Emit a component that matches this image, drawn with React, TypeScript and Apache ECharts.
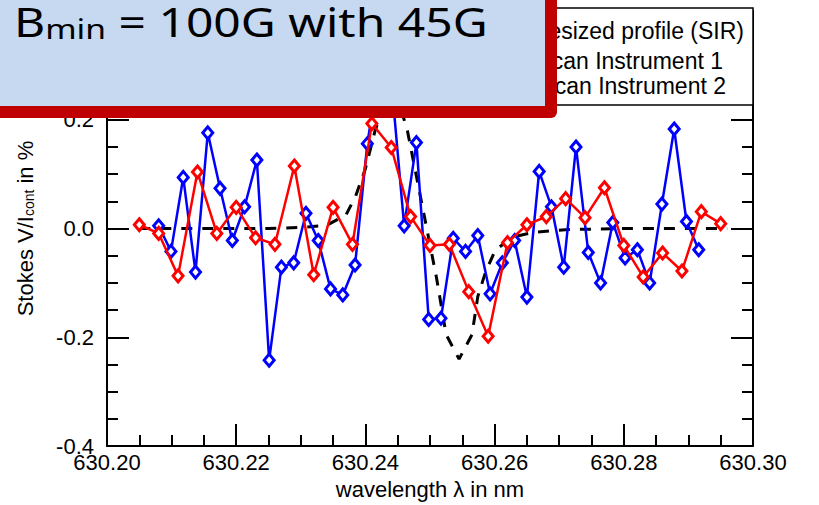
import React, { useEffect, useRef } from "react";
import * as echarts from "echarts";

// ---- data ----
const sirWavelength = [630.205, 630.225, 630.23, 630.234, 630.237, 630.2385, 630.24, 630.2415, 630.243, 630.2445, 630.2455, 630.2465, 630.248, 630.2495, 630.251, 630.2525, 630.2545, 630.2565, 630.2574, 630.2586, 630.2601, 630.2627, 630.266, 630.271, 630.28, 630.296];
const sirStokesV = [0, 0, 0.002, 0.006, 0.025, 0.06, 0.11, 0.18, 0.23, 0.245, 0.22, 0.18, 0.09, 0.0, -0.09, -0.195, -0.24, -0.195, -0.125, -0.08, -0.04, -0.016, -0.007, -0.002, 0, 0];

const inst1Wavelength = [630.208, 630.2099, 630.2118, 630.2137, 630.2156, 630.2175, 630.2194, 630.2213, 630.2232, 630.2251, 630.227, 630.2289, 630.2308, 630.2327, 630.2346, 630.2365, 630.2384, 630.2403, 630.2422, 630.2441, 630.246, 630.2479, 630.2498, 630.2517, 630.2536, 630.2555, 630.2574, 630.2593, 630.2612, 630.2631, 630.265, 630.2669, 630.2688, 630.2707, 630.2726, 630.2745, 630.2764, 630.2783, 630.2802, 630.2821, 630.284, 630.2859, 630.2878, 630.2897, 630.2916];
const inst1StokesV = [0.005, -0.042, 0.094, -0.08, 0.176, 0.074, -0.022, 0.04, 0.126, -0.242, -0.071, -0.063, 0.028, -0.022, -0.111, -0.122, -0.067, 0.156, 0.3, 0.26, 0.005, 0.158, -0.167, -0.165, -0.018, -0.042, -0.013, -0.12, -0.063, -0.022, -0.126, 0.105, 0.04, -0.071, 0.15, -0.044, -0.1, 0.011, -0.054, -0.039, -0.1, 0.045, 0.183, 0.013, -0.039];

const inst2Wavelength = [630.205, 630.208, 630.211, 630.214, 630.217, 630.22, 630.223, 630.226, 630.229, 630.232, 630.235, 630.238, 630.241, 630.244, 630.247, 630.25, 630.253, 630.256, 630.259, 630.262, 630.265, 630.268, 630.271, 630.274, 630.277, 630.28, 630.283, 630.286, 630.289, 630.292, 630.295];
const inst2StokesV = [0.007, -0.009, -0.087, 0.104, -0.009, 0.039, -0.017, -0.029, 0.115, -0.085, 0.039, -0.029, 0.193, 0.149, 0.022, -0.031, -0.029, -0.116, -0.198, -0.026, 0.007, 0.022, 0.055, 0.02, 0.075, -0.031, -0.089, -0.045, -0.078, 0.031, 0.009];

const seriesNames = ["Synthesized profile (SIR)", "Scan Instrument 1", "Scan Instrument 2"];
const xTicks = { min: 630.2, max: 630.3, step: 0.02 };
const yTicks = { min: -0.4, max: 0.4, step: 0.2 };

const FONT = "Liberation Sans, Arial, Helvetica, sans-serif";

function axisBase(showLabel: boolean) {
  return {
    axisLine: { show: true, onZero: false, lineStyle: { color: "#000", width: 2 } },
    axisTick: { show: true, inside: true, length: 22, lineStyle: { color: "#000", width: 2 } },
    minorTick: { show: true, splitNumber: 4, length: 11, lineStyle: { color: "#000", width: 2 } },
    splitLine: { show: false },
    minorSplitLine: { show: false },
    axisLabel: { show: showLabel },
  };
}

export default function App() {
  const ref = useRef<HTMLDivElement>(null);
  useEffect(() => {
    const chart = echarts.init(ref.current!, null, { renderer: "svg" });
    const xCommon = { type: "value", min: xTicks.min, max: xTicks.max, interval: xTicks.step };
    const yCommon = { type: "value", min: yTicks.min, max: yTicks.max, interval: yTicks.step };
    const option: any = {
      animation: false,
      backgroundColor: "#fff",
      grid: { left: 106, right: 66, top: 8, bottom: 58, containLabel: false },
      xAxis: [
        {
          ...xCommon,
          position: "bottom",
          ...axisBase(true),
          axisLabel: {
            show: true,
            formatter: (v: number) => v.toFixed(2),
            fontSize: 22,
            fontFamily: FONT,
            color: "#000",
            margin: 5,
          },
          name: "wavelength λ in nm",
          nameLocation: "middle",
          nameGap: 30,
          nameTextStyle: { fontSize: 22, fontFamily: FONT, color: "#000" },
        },
        { ...xCommon, position: "top", ...axisBase(false) },
      ],
      yAxis: [
        {
          ...yCommon,
          position: "left",
          ...axisBase(true),
          axisLabel: {
            show: true,
            formatter: (v: number) => v.toFixed(1),
            fontSize: 22,
            fontFamily: FONT,
            color: "#000",
            margin: 13,
          },
          name: "{a|Stokes V/I}{b|cont}{a| in %}",
          nameLocation: "middle",
          nameRotate: 90,
          nameGap: 71,
          nameTextStyle: {
            fontFamily: FONT,
            color: "#000",
            rich: {
              a: { fontSize: 22, lineHeight: 22, fontFamily: FONT, color: "#000", verticalAlign: "top" },
              b: { fontSize: 14, lineHeight: 14, fontFamily: FONT, color: "#000", verticalAlign: "bottom", padding: [14, 0, 0, 0] },
            },
          },
        },
        { ...yCommon, position: "right", ...axisBase(false) },
      ],
      series: [
        {
          name: seriesNames[0],
          type: "line",
          data: sirWavelength.map((w, i) => [w, sirStokesV[i]]),
          showSymbol: false,
          symbol: "none",
          lineStyle: { color: "#000", width: 3, type: [11, 10] },
          z: 2,
        },
        {
          name: seriesNames[1],
          type: "line",
          data: inst1Wavelength.map((w, i) => [w, inst1StokesV[i]]),
          symbol: "diamond",
          symbolSize: [10, 12],
          lineStyle: { color: "#0000ff", width: 2.5 },
          itemStyle: { color: "#fff", borderColor: "#0000ff", borderWidth: 3 },
          z: 3,
        },
        {
          name: seriesNames[2],
          type: "line",
          data: inst2Wavelength.map((w, i) => [w, inst2StokesV[i]]),
          symbol: "diamond",
          symbolSize: [10, 12],
          lineStyle: { color: "#ff0000", width: 2.5 },
          itemStyle: { color: "#fff", borderColor: "#ff0000", borderWidth: 3 },
          z: 4,
        },
      ],
      graphic: [
        // legend box
        {
          type: "rect",
          z: 50,
          shape: { x: 400, y: 8, width: 353, height: 97 },
          style: { fill: "#fff", stroke: "#000", lineWidth: 1.5 },
        },
        {
          type: "text",
          z: 51,
          style: { x: 744, y: 31, text: seriesNames[0], textAlign: "right", textVerticalAlign: "middle", fontSize: 23, fontFamily: FONT, fill: "#000" },
        },
        {
          type: "text",
          z: 51,
          style: { x: 723, y: 61, text: seriesNames[1], textAlign: "right", textVerticalAlign: "middle", fontSize: 23, fontFamily: FONT, fill: "#000" },
        },
        {
          type: "text",
          z: 51,
          style: { x: 726, y: 86, text: seriesNames[2], textAlign: "right", textVerticalAlign: "middle", fontSize: 23, fontFamily: FONT, fill: "#000" },
        },
        // title box
        {
          type: "rect",
          z: 100,
          shape: { x: -10, y: -10, width: 567, height: 128, r: [0, 0, 6, 0] },
          style: { fill: "#C00000" },
        },
        {
          type: "rect",
          z: 101,
          shape: { x: -10, y: -10, width: 555, height: 116 },
          style: { fill: "#C6D9F1" },
        },
        {
          type: "text",
          z: 102,
          x: 14,
          y: 2,
          scaleX: 1.2,
          style: {
            x: 0,
            y: 0,
            text: "{b|B}{s|min}{b| = 100G with 45G}",
            textVerticalAlign: "top",
            rich: {
              b: { fontSize: 40, lineHeight: 40, fontFamily: "Noto Sans", fill: "#000", verticalAlign: "bottom" },
              s: { fontSize: 28, lineHeight: 28, fontFamily: "Noto Sans", fill: "#000", verticalAlign: "bottom" },
            },
          },
        },
      ],
    };
    chart.setOption(option);
    return () => chart.dispose();
  }, []);
  return <div ref={ref} style={{ position: "fixed", left: 0, top: 0, width: 819, height: 505, background: "#fff" }} />;
}
